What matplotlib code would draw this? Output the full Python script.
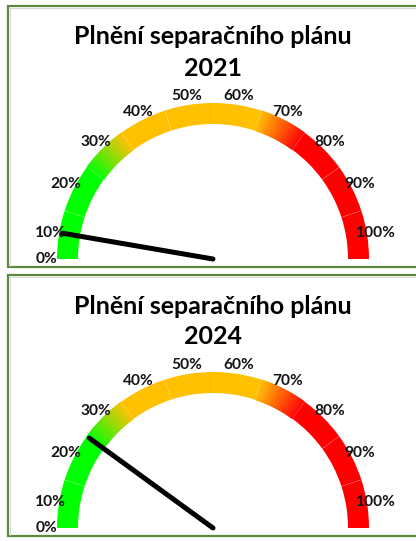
import numpy as np
import matplotlib
matplotlib.use("Agg")
import matplotlib.pyplot as plt
from matplotlib.patches import Wedge
from matplotlib.colors import to_rgb

# ---- data ----
title_text = "Plnění separačního plánu"
years = ["2021", "2024"]
needle_values = [5.4, 20.0]          # percent fulfilment
tick_labels = ["0%", "10%", "20%", "30%", "40%", "50%", "60%", "70%", "80%", "90%", "100%"]
segment_bounds = [0, 10, 20, 30, 40, 50, 60, 70, 80, 90, 100]
seg_start_colors = ["#00FF00", "#00FF00", "#00FF00", "#FFC000", "#FFC000", "#FFC000", "#FFC000", "#FF0000", "#FF0000", "#FF0000"]
seg_end_colors   = ["#00FF00", "#00FF00", "#FFC000", "#FFC000", "#FFC000", "#FFC000", "#FF0000", "#FF0000", "#FF0000", "#FF0000"]

W, H = 416, 541
fig = plt.figure(figsize=(W / 100, H / 100), dpi=100)
ax = fig.add_axes([0, 0, 1, 1])
ax.set_xlim(0, W)
ax.set_ylim(H, 0)
ax.axis("off")

FONT = "Lato"
border_col = "#5B8A3C"
panel_offset = 269
cx = 213
R_out, ring_w = 156, 21


def ang(v):
    return 180 - 1.8 * v


for i, (year, val) in enumerate(zip(years, needle_values)):
    oy = i * panel_offset
    cy = 259 + oy
    # panel frame
    top = 6 + oy
    bot = 267 + oy
    ax.plot([420, 8, 8, 420], [top, top, bot, bot], color=border_col, lw=1.6,
            solid_joinstyle="miter", clip_on=False)
    ax.plot([10, 10], [top + 2, bot - 1], color="#D0D0D0", lw=0.6)
    ax.plot([10, 420], [top + 2, top + 2], color="#D0D0D0", lw=0.6)

    # title
    ax.text(cx, 37 + oy, title_text, ha="center", va="center", fontsize=18,
            fontweight="bold", family=FONT, color="black")
    ax.text(cx, 68 + oy, year, ha="center", va="center", fontsize=18,
            fontweight="bold", family=FONT, color="black")

    # ring segments
    for k in range(len(segment_bounds) - 1):
        v0, v1 = segment_bounds[k], segment_bounds[k + 1]
        c0, c1 = np.array(to_rgb(seg_start_colors[k])), np.array(to_rgb(seg_end_colors[k]))
        if np.allclose(c0, c1):
            ax.add_patch(Wedge((cx, cy), R_out, -ang(v0), -ang(v1), width=ring_w,
                               facecolor=c0, edgecolor="none"))
        else:
            n = 40
            for j in range(n):
                t = (j + 0.5) / n
                col = c0 * (1 - t) + c1 * t
                a0 = v0 + (v1 - v0) * j / n
                a1 = v0 + (v1 - v0) * (j + 1) / n
                ax.add_patch(Wedge((cx, cy), R_out, -ang(a0), -ang(a1), width=ring_w,
                                   facecolor=col, edgecolor=col, lw=0.4))
    # faint separators
    for v in segment_bounds[1:-1]:
        a = np.radians(ang(v))
        r0, r1 = R_out - ring_w, R_out
        ax.plot([cx + r0 * np.cos(a), cx + r1 * np.cos(a)],
                [cy - r0 * np.sin(a), cy - r1 * np.sin(a)],
                color="white", lw=0.5, alpha=0.2)

    # labels
    for k, lab in enumerate(tick_labels):
        if k == 0:
            a, r = 180.0, 167
        else:
            a, r = ang((segment_bounds[k - 1] + segment_bounds[k]) / 2), 165
        ar = np.radians(a)
        ax.text(cx + r * np.cos(ar), cy - r * np.sin(ar), lab, ha="center", va="center",
                fontsize=11.2, fontweight="bold", family=FONT, color="#141414")

    # needle
    a = np.radians(ang(val))
    L = 153
    ax.plot([cx, cx + L * np.cos(a)], [cy, cy - L * np.sin(a)], color="black",
            lw=3.6, solid_capstyle="round")

fig.savefig("out.png", dpi=100)
